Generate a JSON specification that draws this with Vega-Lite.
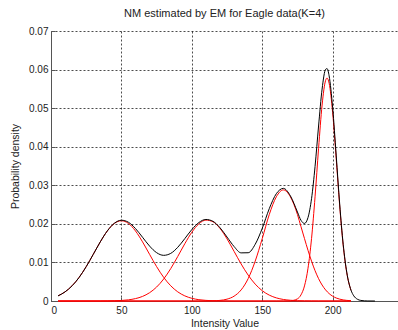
{
  "$schema": "https://vega.github.io/schema/vega-lite/v6.json",
  "width": 398,
  "height": 330,
  "autosize": {"type": "fit", "contains": "padding"},
  "padding": {"left": 10, "top": 8, "right": 0, "bottom": 1},
  "background": "white",
  "title": {"text": "NM estimated by EM for Eagle data(K=4)", "font": "Liberation Sans", "fontSize": 11, "fontWeight": "normal", "color": "#222", "offset": 7, "anchor": "middle"},
  "config": {
    "view": {"stroke": null},
    "axis": {
      "labelFont": "Liberation Sans", "labelFontSize": 10, "labelColor": "#222",
      "titleFont": "Liberation Sans", "titleFontSize": 10.5, "titleFontWeight": "normal", "titleColor": "#222",
      "grid": true, "gridColor": "#000", "gridDash": [2, 2], "gridOpacity": 0.7, "gridWidth": 1,
      "domainColor": "#555", "domainWidth": 1, "tickColor": "#555", "tickSize": -4
    }
  },
  "datasets": {
    "comp": [
      {"k":"c1","x":5,"y":0.00133},{"k":"c1","x":10,"y":0.00237},{"k":"c1","x":15,"y":0.00395},{"k":"c1","x":20,"y":0.00613},{"k":"c1","x":25,"y":0.00891},{"k":"c1","x":30,"y":0.01209},{"k":"c1","x":35,"y":0.01533},{"k":"c1","x":40,"y":0.01816},{"k":"c1","x":45,"y":0.02011},{"k":"c1","x":50,"y":0.0208},{"k":"c1","x":55,"y":0.02011},{"k":"c1","x":60,"y":0.01816},{"k":"c1","x":65,"y":0.01533},{"k":"c1","x":70,"y":0.01209},{"k":"c1","x":75,"y":0.00891},{"k":"c1","x":80,"y":0.00613},{"k":"c1","x":85,"y":0.00395},{"k":"c1","x":90,"y":0.00237},{"k":"c1","x":95,"y":0.00133},{"k":"c1","x":100,"y":0.0007},{"k":"c1","x":105,"y":0.00034},{"k":"c1","x":110,"y":0.00016},{"k":"c1","x":115,"y":0.00007},{"k":"c1","x":120,"y":0.00003},{"k":"c1","x":125,"y":0.00001},{"k":"c1","x":130,"y":0},{"k":"c1","x":150,"y":0},{"k":"c1","x":180,"y":0},{"k":"c1","x":213,"y":0},
      {"k":"c2","x":5,"y":0},{"k":"c2","x":20,"y":0},{"k":"c2","x":35,"y":0},{"k":"c2","x":40,"y":0.00002},{"k":"c2","x":45,"y":0.00006},{"k":"c2","x":50,"y":0.00014},{"k":"c2","x":55,"y":0.0003},{"k":"c2","x":60,"y":0.00062},{"k":"c2","x":65,"y":0.00119},{"k":"c2","x":70,"y":0.00215},{"k":"c2","x":75,"y":0.00362},{"k":"c2","x":80,"y":0.0057},{"k":"c2","x":85,"y":0.00839},{"k":"c2","x":90,"y":0.01154},{"k":"c2","x":95,"y":0.01484},{"k":"c2","x":100,"y":0.01782},{"k":"c2","x":105,"y":0.02},{"k":"c2","x":110,"y":0.02097},{"k":"c2","x":115,"y":0.02055},{"k":"c2","x":120,"y":0.01882},{"k":"c2","x":125,"y":0.0161},{"k":"c2","x":130,"y":0.01287},{"k":"c2","x":135,"y":0.00961},{"k":"c2","x":140,"y":0.00671},{"k":"c2","x":145,"y":0.00438},{"k":"c2","x":150,"y":0.00267},{"k":"c2","x":155,"y":0.00152},{"k":"c2","x":160,"y":0.00081},{"k":"c2","x":165,"y":0.0004},{"k":"c2","x":170,"y":0.00019},{"k":"c2","x":175,"y":0.00008},{"k":"c2","x":180,"y":0.00003},{"k":"c2","x":185,"y":0.00001},{"k":"c2","x":190,"y":0},{"k":"c2","x":213,"y":0},
      {"k":"c3","x":5,"y":0},{"k":"c3","x":50,"y":0},{"k":"c3","x":100,"y":0},{"k":"c3","x":105,"y":0},{"k":"c3","x":110,"y":0.00001},{"k":"c3","x":115,"y":0.00005},{"k":"c3","x":120,"y":0.00016},{"k":"c3","x":125,"y":0.00048},{"k":"c3","x":130,"y":0.00125},{"k":"c3","x":135,"y":0.00287},{"k":"c3","x":140,"y":0.0058},{"k":"c3","x":145,"y":0.01033},{"k":"c3","x":150,"y":0.01618},{"k":"c3","x":155,"y":0.02243},{"k":"c3","x":160,"y":0.02701},{"k":"c3","x":165,"y":0.0288},{"k":"c3","x":170,"y":0.02701},{"k":"c3","x":175,"y":0.02243},{"k":"c3","x":177.5,"y":0.01929},{"k":"c3","x":180,"y":0.01618},{"k":"c3","x":182.5,"y":0.01313},{"k":"c3","x":185,"y":0.01033},{"k":"c3","x":187.5,"y":0.00786},{"k":"c3","x":190,"y":0.0058},{"k":"c3","x":192.5,"y":0.00414},{"k":"c3","x":195,"y":0.00287},{"k":"c3","x":197.5,"y":0.00192},{"k":"c3","x":200,"y":0.00125},{"k":"c3","x":202.5,"y":0.00078},{"k":"c3","x":205,"y":0.00048},{"k":"c3","x":207.5,"y":0.00028},{"k":"c3","x":210,"y":0.00016},{"k":"c3","x":213,"y":0.00008},
      {"k":"c4","x":5,"y":0},{"k":"c4","x":50,"y":0},{"k":"c4","x":100,"y":0},{"k":"c4","x":150,"y":0},{"k":"c4","x":160,"y":0},{"k":"c4","x":165,"y":0},{"k":"c4","x":170,"y":0.00005},{"k":"c4","x":175,"y":0.00056},{"k":"c4","x":177.5,"y":0.00158},{"k":"c4","x":180,"y":0.00391},{"k":"c4","x":182.5,"y":0.00849},{"k":"c4","x":185,"y":0.01617},{"k":"c4","x":187.5,"y":0.02702},{"k":"c4","x":190,"y":0.03957},{"k":"c4","x":192.5,"y":0.05081},{"k":"c4","x":195,"y":0.0572},{"k":"c4","x":196,"y":0.0578},{"k":"c4","x":197.5,"y":0.05645},{"k":"c4","x":200,"y":0.04884},{"k":"c4","x":202.5,"y":0.03705},{"k":"c4","x":205,"y":0.02464},{"k":"c4","x":207.5,"y":0.01437},{"k":"c4","x":210,"y":0.00734},{"k":"c4","x":213,"y":0.00276}
    ],
    "mix": [
      {"x":5,"y":0.00133},{"x":10,"y":0.00237},{"x":15,"y":0.00395},{"x":20,"y":0.00613},{"x":25,"y":0.00891},{"x":30,"y":0.01209},{"x":35,"y":0.01533},{"x":40,"y":0.01818},{"x":45,"y":0.02016},{"x":50,"y":0.02094},{"x":55,"y":0.02041},{"x":60,"y":0.01878},{"x":65,"y":0.01652},{"x":70,"y":0.01424},{"x":75,"y":0.01253},{"x":80,"y":0.01184},{"x":85,"y":0.01234},{"x":90,"y":0.01392},{"x":95,"y":0.01617},{"x":100,"y":0.01852},{"x":105,"y":0.02034},{"x":110,"y":0.02114},{"x":115,"y":0.02066},{"x":120,"y":0.019},{"x":125,"y":0.01658},{"x":130,"y":0.01412},{"x":135,"y":0.01248},{"x":140,"y":0.01251},{"x":145,"y":0.0147},{"x":150,"y":0.01884},{"x":155,"y":0.02395},{"x":160,"y":0.02782},{"x":165,"y":0.0292},{"x":170,"y":0.02725},{"x":175,"y":0.02307},{"x":177.5,"y":0.02092},{"x":180,"y":0.02011},{"x":182.5,"y":0.02164},{"x":185,"y":0.02651},{"x":187.5,"y":0.03488},{"x":190,"y":0.04537},{"x":192.5,"y":0.05495},{"x":195,"y":0.06006},{"x":196,"y":0.06025},{"x":197.5,"y":0.05837},{"x":200,"y":0.05009},{"x":202.5,"y":0.03783},{"x":205,"y":0.02512},{"x":207.5,"y":0.01465},{"x":210,"y":0.0075},{"x":213,"y":0.00284},{"x":215,"y":0.00134},{"x":217.5,"y":0.00047},{"x":220,"y":0.00015},{"x":225,"y":0.00001},{"x":230,"y":0}
    ]
  },
  "encoding": {
    "x": {"field": "x", "type": "quantitative", "scale": {"domain": [0, 246.4], "nice": false},
          "axis": {"values": [0, 50, 100, 150, 200], "title": "Intensity Value", "labelPadding": 8, "titlePadding": 3}},
    "y": {"field": "y", "type": "quantitative", "scale": {"domain": [0, 0.07], "nice": false},
          "axis": {"values": [0, 0.01, 0.02, 0.03, 0.04, 0.05, 0.06, 0.07], "format": ".2~f", "title": "Probability density", "labelPadding": 7, "titlePadding": 8, "labelOverlap": false}}
  },
  "layer": [
    {
      "data": {"name": "comp"},
      "mark": {"type": "line", "color": "#ff0000", "strokeWidth": 1, "interpolate": "monotone"},
      "encoding": {"detail": {"field": "k", "type": "nominal"}}
    },
    {
      "data": {"name": "mix"},
      "mark": {"type": "line", "color": "#000000", "strokeWidth": 1, "interpolate": "monotone"},
      "encoding": {}
    }
  ]
}
